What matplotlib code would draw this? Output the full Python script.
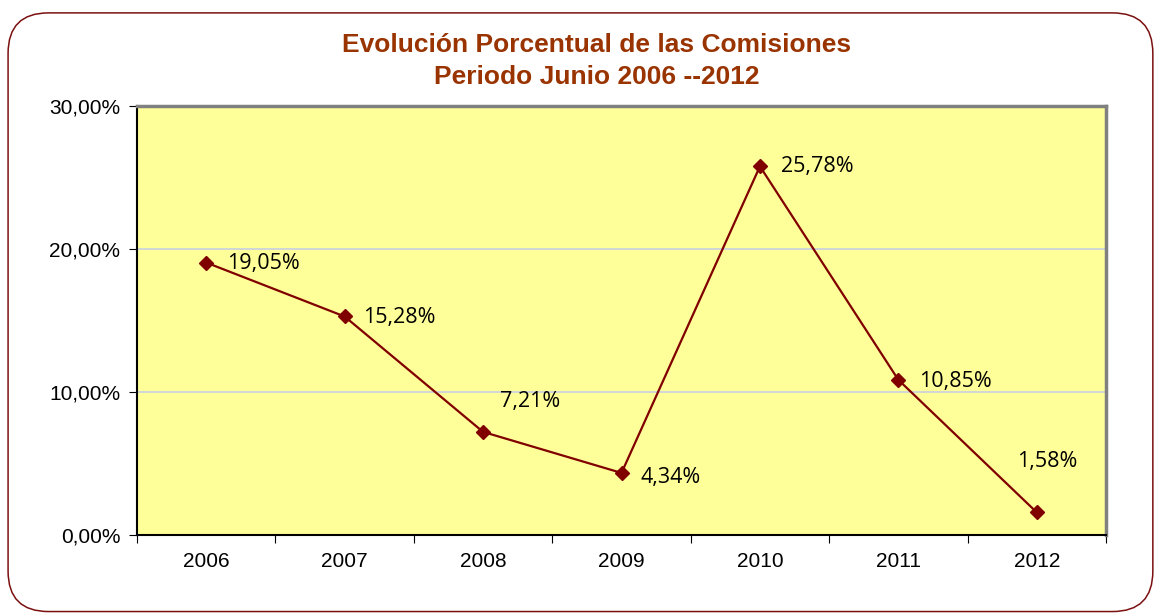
import matplotlib.pyplot as plt
from matplotlib.patches import FancyBboxPatch

years = ["2006", "2007", "2008", "2009", "2010", "2011", "2012"]
values = [19.05, 15.28, 7.21, 4.34, 25.78, 10.85, 1.58]
labels = ["19,05%", "15,28%", "7,21%", "4,34%", "25,78%", "10,85%", "1,58%"]
# label placement: (dx, dy) offsets in points
offsets = [(15, -1), (13, -1), (12, 22), (14, -3), (15, 0), (15, -1), (-14, 37)]
ytick_vals = [0, 10, 20, 30]
ytick_labels = ["0,00%", "10,00%", "20,00%", "30,00%"]

fig = plt.figure(figsize=(11.54, 6.14), dpi=100)

# rounded outer border
border = FancyBboxPatch((0.007, 0.004), 0.992, 0.975,
                        boxstyle="round,pad=0,rounding_size=0.035",
                        transform=fig.transFigure, fill=False,
                        edgecolor="#7b1010", linewidth=1.1, mutation_aspect=1.88)
fig.patches.append(border)

ax = fig.add_axes([137 / 1154, 1 - 535 / 614, 969 / 1154, 429 / 614])
ax.set_facecolor("#ffff99")
x = list(range(len(years)))
ax.plot(x, values, color="#800000", linewidth=1.6, marker="D", markersize=7.5,
        markeredgecolor="#800000", zorder=3)

for xi, v, lab, (dx, dy) in zip(x, values, labels, offsets):
    ax.annotate(lab, (xi, v), xytext=(dx, dy), textcoords="offset points",
                ha="left", va="center", fontsize=15.5, family="Open Sans",
                color="black")

ax.set_xlim(-0.5, 6.5)
ax.set_ylim(0, 30)
ax.set_yticks(ytick_vals)
ax.set_yticklabels(ytick_labels, family="Liberation Sans", fontsize=15)
ax.set_xticks([i - 0.5 for i in range(len(years) + 1)])
ax.set_xticklabels([])
ax.set_xticks(x, minor=True)
ax.set_xticklabels(years, minor=True, family="Liberation Sans", fontsize=15)
ax.tick_params(axis="x", which="minor", length=0, pad=12)
ax.tick_params(axis="x", which="major", length=6, direction="out")
ax.tick_params(axis="y", length=6, direction="out", pad=6)
ax.grid(axis="y", color="#c8d0e0", linewidth=1.2)
ax.set_axisbelow(True)

for s in ["top", "right"]:
    ax.spines[s].set_color("#808080")
    ax.spines[s].set_linewidth(2.5)
ax.spines["left"].set_linewidth(1.5)
ax.spines["bottom"].set_linewidth(1.5)

fig.text(0.517, 0.926, "Evolución Porcentual de las Comisiones",
         ha="center", va="center", fontsize=19, fontweight="bold",
         family="Liberation Sans", color="#993300")
fig.text(0.517, 0.875, "Periodo Junio 2006 --2012",
         ha="center", va="center", fontsize=19, fontweight="bold",
         family="Liberation Sans", color="#993300")

fig.savefig("out.png", dpi=100)
